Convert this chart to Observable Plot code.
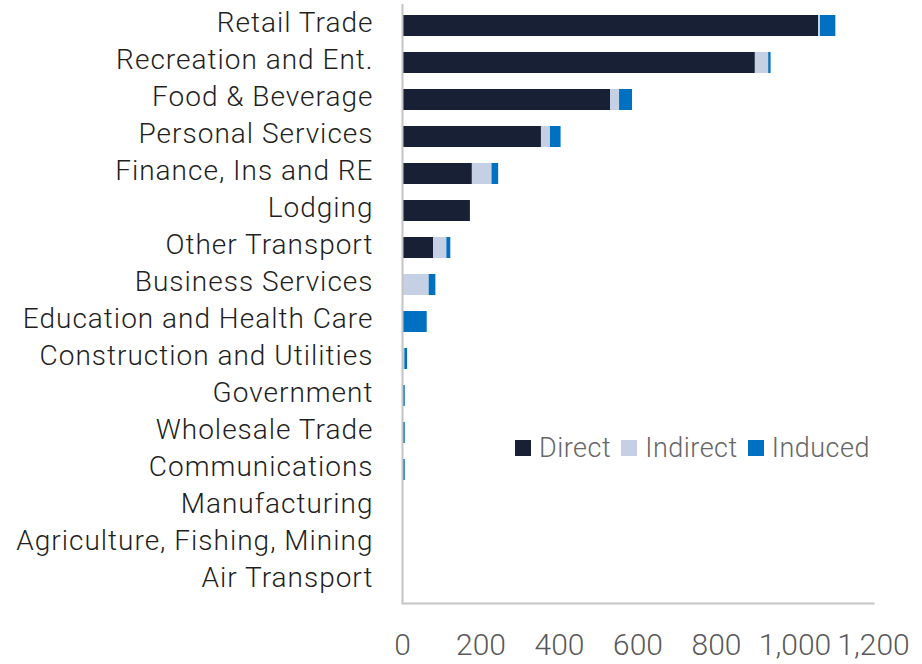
<!DOCTYPE html>
<html>
<head>
<meta charset="utf-8">
<script src="https://cdn.jsdelivr.net/npm/d3@7"></script>
<script src="https://cdn.jsdelivr.net/npm/@observablehq/plot@0.6"></script>
<style>
  html, body { margin: 0; padding: 0; background: #fff; }
  #wrap { position: relative; width: 922px; height: 664px; }
  #legend { position: absolute; left: 515px; top: 432px; display: flex; align-items: center;
            font-family: "Roboto Light", Roboto, sans-serif; font-weight: 300; font-size: 27px; letter-spacing: 0.5px;
            color: #666; white-space: nowrap; }
  #legend .item { display: flex; align-items: center; margin-right: 10px; }
  #legend .sw { width: 16px; height: 16px; margin-right: 8px; }
  .yax text { letter-spacing: 1px; }
</style>
</head>
<body>
<div id="wrap"><div id="legend"></div></div>
<script>
const categories = ["Retail Trade", "Recreation and Ent.", "Food & Beverage", "Personal Services",
  "Finance, Ins and RE", "Lodging", "Other Transport", "Business Services",
  "Education and Health Care", "Construction and Utilities", "Government", "Wholesale Trade",
  "Communications", "Manufacturing", "Agriculture, Fishing, Mining", "Air Transport"];
const direct   = [1060, 899, 530, 354, 178, 173, 79, 0, 0, 0, 0, 0, 0, 0, 0, 0];
const indirect = [5, 34, 23, 23, 50, 0, 34, 68, 0, 6, 1, 1, 1, 0, 0, 0];
const induced  = [39, 6, 33, 27, 17, 0, 10, 17, 63, 7, 6, 6, 6, 0, 0, 0];
const seriesNames = ["Direct", "Indirect", "Induced"];
const seriesColors = ["#172035", "#c5d0e4", "#0070c0"];
const xTicks = [0, 200, 400, 600, 800, 1000, 1200];

const seriesValues = [direct, indirect, induced];
const rows = [];
categories.forEach((c, i) => {
  seriesNames.forEach((s, j) => rows.push({category: c, series: s, value: seriesValues[j][i]}));
});

const chart = Plot.plot({
  width: 922,
  height: 664,
  marginLeft: 402,
  marginRight: 49,
  marginTop: 4,
  marginBottom: 61,
  style: {fontFamily: "'Roboto Light', Roboto, sans-serif", fontWeight: 300, background: "#fff"},
  x: {domain: [0, 1200], label: null},
  y: {domain: categories, paddingInner: 0.43, paddingOuter: 0.215, label: null},
  color: {domain: seriesNames, range: seriesColors},
  marks: [
    Plot.barX(rows, {x: "value", y: "category", fill: "series", order: seriesNames}),
    Plot.ruleX([0], {stroke: "#c4c4c4", strokeWidth: 2}),
    Plot.frame({anchor: "bottom", stroke: "#c4c4c4", strokeWidth: 2}),
    Plot.axisY({tickSize: 0, tickPadding: 29, dy: -3, fill: "#1f1f1f", fontSize: 28, label: null, className: "yax"}),
    Plot.axisX({ticks: xTicks, tickFormat: d3.format(","), tickSize: 0, tickPadding: 30, fill: "#595959", fontSize: 30, label: null})
  ]
});
document.getElementById("wrap").prepend(chart);

const legend = document.getElementById("legend");
seriesNames.forEach((s, j) => {
  const item = document.createElement("div");
  item.className = "item";
  const sw = document.createElement("div");
  sw.className = "sw";
  sw.style.background = seriesColors[j];
  const t = document.createElement("span");
  t.textContent = s;
  item.append(sw, t);
  legend.append(item);
});
</script>
</body>
</html>
